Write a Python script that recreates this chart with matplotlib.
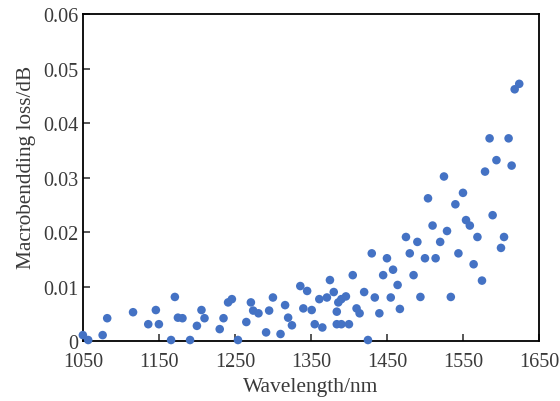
import numpy as np
import matplotlib
matplotlib.use("Agg")
import matplotlib.pyplot as plt

plt.rcParams['font.family'] = ['Liberation Serif', 'DejaVu Serif']

# wavelength (nm) and macrobending loss (dB)
wavelength = [1050, 1057, 1076, 1082, 1116, 1136, 1146, 1150, 1171, 1166,
              1175, 1181, 1191, 1200, 1206, 1210, 1230, 1235, 1241, 1246,
              1254, 1265, 1271, 1274, 1281, 1291, 1295, 1300, 1310, 1316,
              1320, 1325, 1336, 1345, 1340, 1351, 1355, 1365, 1361, 1371,
              1375, 1380, 1386, 1384, 1390, 1396, 1384, 1390, 1400, 1405,
              1410, 1414, 1420, 1425, 1430, 1434, 1440, 1445, 1450, 1455,
              1458, 1464, 1467, 1475, 1480, 1485, 1490, 1494, 1500, 1504,
              1510, 1514, 1520, 1525, 1529, 1534, 1540, 1544, 1550, 1554,
              1559, 1564, 1569, 1575, 1579, 1585, 1589, 1594, 1600, 1604,
              1610, 1614, 1618, 1624]
loss = [0.0011, 0.0002, 0.0011, 0.0042, 0.0053, 0.0031, 0.0057, 0.0031, 0.0081, 0.0002,
        0.0043, 0.0042, 0.0002, 0.0028, 0.0057, 0.0042, 0.0022, 0.0042, 0.0071, 0.0077,
        0.0002, 0.0035, 0.0071, 0.0056, 0.0051, 0.0016, 0.0056, 0.0080, 0.0013, 0.0066,
        0.0043, 0.0029, 0.0101, 0.0092, 0.0060, 0.0057, 0.0031, 0.0025, 0.0077, 0.0080,
        0.0112, 0.0090, 0.0071, 0.0054, 0.0077, 0.0082, 0.0031, 0.0031, 0.0031, 0.0121,
        0.0060, 0.0051, 0.0090, 0.0002, 0.0161, 0.0080, 0.0051, 0.0121, 0.0152, 0.0080,
        0.0131, 0.0103, 0.0059, 0.0191, 0.0161, 0.0121, 0.0182, 0.0081, 0.0152, 0.0262,
        0.0212, 0.0152, 0.0182, 0.0302, 0.0202, 0.0081, 0.0251, 0.0161, 0.0272, 0.0222,
        0.0212, 0.0141, 0.0191, 0.0111, 0.0311, 0.0372, 0.0231, 0.0332, 0.0171, 0.0191,
        0.0372, 0.0322, 0.0462, 0.0472]

xticks = [1050, 1150, 1250, 1350, 1450, 1550, 1650]
yticks = [0, 0.01, 0.02, 0.03, 0.04, 0.05, 0.06]
ylabels = ['0', '0.01', '0.02', '0.03', '0.04', '0.05', '0.06']

fig = plt.figure(figsize=(5.6, 4.02), dpi=100)
ax = fig.add_axes([0.148, 0.149, 0.8145, 0.8135])
ax.scatter(wavelength, loss, s=38, color='#4472C4', edgecolors='none',
           clip_on=False, zorder=3)

ax.set_xlim(1050, 1650)
ax.set_ylim(0, 0.06)
ax.set_xticks(xticks)
ax.set_yticks(yticks)
ax.set_yticklabels(ylabels)
ax.tick_params(direction='in', length=5, width=1.2, labelsize=14.5, colors='#3a3a3a')
ax.tick_params(axis='x', pad=7.5)
for s in ax.spines.values():
    s.set_linewidth(1.3)
ax.set_xlabel('Wavelength/nm', fontsize=15.5, color='#3a3a3a', labelpad=5)
ax.set_ylabel('Macrobendding loss/dB', fontsize=15.3, color='#3a3a3a')
ax.yaxis.set_label_coords(-0.103, 0.535)

fig.savefig('out.png', dpi=100)
